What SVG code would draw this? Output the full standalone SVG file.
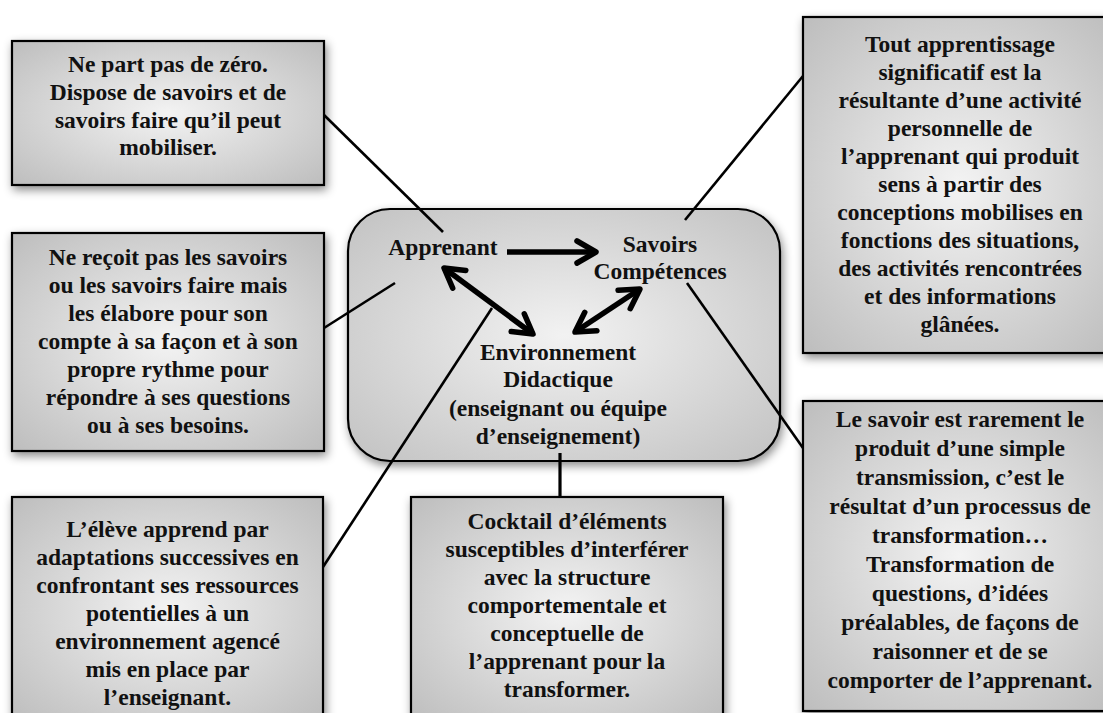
<svg xmlns="http://www.w3.org/2000/svg" width="1103" height="713" viewBox="0 0 1103 713">
  <style>
    .box { fill: url(#boxGrad); stroke: #000; stroke-width: 2.2; filter: url(#shadow); }
    .hub { fill: url(#hubGrad); stroke: #000; stroke-width: 2.2; filter: url(#shadow); }
    text { font-family: "Liberation Serif", "Times New Roman", serif; font-weight: bold; font-size: 23.5px; fill: #111; text-anchor: middle; }
    .conn { stroke: #000; stroke-width: 2.6; fill: none; }
    .arrow { stroke: #000; stroke-width: 5.5; fill: none; marker-end: url(#chev); }
    .darrow { stroke: #000; stroke-width: 5.5; fill: none; marker-end: url(#chev); marker-start: url(#chev); }
  </style>
  <defs>
    <radialGradient id="boxGrad" cx="0.5" cy="0.5" r="0.72">
      <stop offset="0" stop-color="#f3f3f3"/>
      <stop offset="1" stop-color="#bcbcbc"/>
    </radialGradient>
    <radialGradient id="hubGrad" cx="0.5" cy="0.5" r="0.7">
      <stop offset="0" stop-color="#f2f2f2"/>
      <stop offset="1" stop-color="#c2c2c2"/>
    </radialGradient>
    <filter id="shadow" x="-10%" y="-10%" width="125%" height="130%">
      <feDropShadow dx="2" dy="4" stdDeviation="5" flood-color="#000" flood-opacity="0.45"/>
    </filter>
    <marker id="chev" markerUnits="userSpaceOnUse" viewBox="-26 -16 30 32" refX="0" refY="0" markerWidth="30" markerHeight="32" orient="auto-start-reverse">
      <path d="M-19,-11 L0,0 L-19,11" fill="none" stroke="#000" stroke-width="5.5" stroke-linecap="round" stroke-linejoin="round"/>
    </marker>
  </defs>

  <rect width="1103" height="713" fill="#fff"/>

  <g id="hub">
    <rect class="hub" x="348" y="209" width="432" height="252" rx="42" ry="42"/>
  </g>

  <g id="box-top-left">
    <rect class="box" x="12" y="41" width="312" height="144"/>
    <text x="168" y="72">Ne part pas de zéro.</text>
    <text x="168" y="100">Dispose de savoirs et de</text>
    <text x="168" y="128">savoirs faire qu’il peut</text>
    <text x="168" y="155">mobiliser.</text>
  </g>

  <g id="box-mid-left">
    <rect class="box" x="12" y="233" width="312" height="218"/>
    <text x="168" y="265">Ne reçoit pas les savoirs</text>
    <text x="168" y="293">ou les savoirs faire mais</text>
    <text x="168" y="321">les élabore pour son</text>
    <text x="168" y="349">compte à sa façon et à son</text>
    <text x="168" y="377">propre rythme pour</text>
    <text x="168" y="405">répondre à ses questions</text>
    <text x="168" y="433">ou à ses besoins.</text>
  </g>

  <g id="box-bottom-left">
    <rect class="box" x="12" y="497" width="311" height="225"/>
    <text x="167.5" y="537">L’élève apprend par</text>
    <text x="167.5" y="565">adaptations successives en</text>
    <text x="167.5" y="593">confrontant ses ressources</text>
    <text x="167.5" y="621">potentielles à un</text>
    <text x="167.5" y="649">environnement agencé</text>
    <text x="167.5" y="677">mis en place par</text>
    <text x="167.5" y="705">l’enseignant.</text>
  </g>

  <g id="box-bottom-center">
    <rect class="box" x="411" y="497" width="312" height="225"/>
    <text x="567" y="529">Cocktail d’éléments</text>
    <text x="567" y="557">susceptibles d’interférer</text>
    <text x="567" y="585">avec la structure</text>
    <text x="567" y="613">comportementale et</text>
    <text x="567" y="641">conceptuelle de</text>
    <text x="567" y="669">l’apprenant pour la</text>
    <text x="567" y="697">transformer.</text>
  </g>

  <g id="box-top-right">
    <rect class="box" x="803" y="17" width="314" height="336"/>
    <text x="960" y="52">Tout apprentissage</text>
    <text x="960" y="80">significatif est la</text>
    <text x="960" y="108">résultante d’une activité</text>
    <text x="960" y="136">personnelle de</text>
    <text x="960" y="164">l’apprenant qui produit</text>
    <text x="960" y="192">sens à partir des</text>
    <text x="960" y="220">conceptions mobilises en</text>
    <text x="960" y="248">fonctions des situations,</text>
    <text x="960" y="276">des activités rencontrées</text>
    <text x="960" y="304">et des informations</text>
    <text x="960" y="332">glânées.</text>
  </g>

  <g id="box-bottom-right">
    <rect class="box" x="803" y="401" width="314" height="310"/>
    <text x="960" y="427">Le savoir est rarement le</text>
    <text x="960" y="456">produit d’une simple</text>
    <text x="960" y="485">transmission, c’est le</text>
    <text x="960" y="514">résultat d’un processus de</text>
    <text x="960" y="543">transformation…</text>
    <text x="960" y="572">Transformation de</text>
    <text x="960" y="601">questions, d’idées</text>
    <text x="960" y="630">préalables, de façons de</text>
    <text x="960" y="659">raisonner et de se</text>
    <text x="960" y="688">comporter de l’apprenant.</text>
  </g>

  <g id="connectors">
    <line class="conn" x1="324" y1="115" x2="443" y2="232"/>
    <line class="conn" x1="324" y1="328" x2="395" y2="283"/>
    <line class="conn" x1="323" y1="567" x2="492" y2="308"/>
    <line class="conn" x1="803" y1="76" x2="685" y2="220"/>
    <line class="conn" x1="803" y1="448" x2="687" y2="283"/>
    <line class="conn" x1="560" y1="453" x2="560" y2="497" style="stroke-width:3.2"/>
    <line class="arrow" x1="507" y1="252" x2="596" y2="252"/>
    <line class="darrow" x1="444" y1="268" x2="533" y2="334"/>
    <line class="darrow" x1="640" y1="289" x2="575" y2="332"/>
  </g>

  <g id="node-apprenant">
    <text x="443" y="255">Apprenant</text>
  </g>
  <g id="node-savoirs">
    <text x="660" y="252">Savoirs</text>
    <text x="660" y="279">Compétences</text>
  </g>
  <g id="node-environnement">
    <text x="558" y="360">Environnement</text>
    <text x="558" y="387">Didactique</text>
    <text x="558" y="416">(enseignant ou équipe</text>
    <text x="558" y="444">d’enseignement)</text>
  </g>
</svg>
